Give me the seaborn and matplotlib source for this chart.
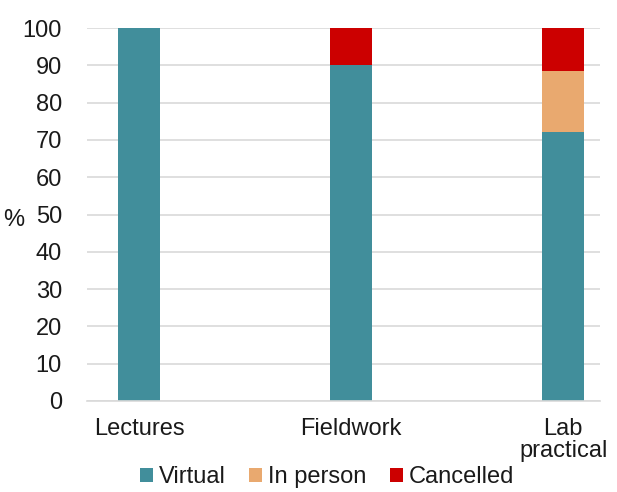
import matplotlib
matplotlib.use("Agg")
import matplotlib.pyplot as plt
import seaborn as sns
import pandas as pd
import numpy as np
from matplotlib.patches import Patch

categories = ["Lectures", "Fieldwork", "Lab\npractical"]
virtual = [100, 90, 72]
in_person = [0, 0, 16.5]
cancelled = [0, 10, 11.5]

series = ["Virtual", "In person", "Cancelled"]
colors = ["#418E9B", "#E9A96F", "#CC0000"]

sns.set_theme(style="white")
plt.rcParams["font.family"] = ["Liberation Sans", "DejaVu Sans"]

fig = plt.figure(figsize=(6.17, 4.92), dpi=100)
ax = fig.add_axes([0.141, 0.185, 0.832, 0.758])

# stacked bars: draw cumulative totals from the top layer down
values = np.array([virtual, in_person, cancelled])
cum = values.cumsum(axis=0)
for i in reversed(range(len(series))):
    df = pd.DataFrame({"cat": categories, "val": cum[i]})
    sns.barplot(data=df, x="cat", y="val", color=colors[i], width=0.2,
                saturation=1, linewidth=0, ax=ax, zorder=2)

ax.set_ylim(0, 100)
ax.set_yticks(range(0, 101, 10))
ax.set_xlim(-0.245, 2.175)
ax.yaxis.grid(True, color="#D9D9D9", linewidth=1.2, zorder=0)
ax.set_axisbelow(True)
for s in ["top", "right", "left"]:
    ax.spines[s].set_visible(False)
ax.spines["bottom"].set_color("#D9D9D9")
ax.spines["bottom"].set_linewidth(1.2)
ax.tick_params(axis="both", length=0, labelsize=17, colors="#1A1A1A")
ax.tick_params(axis="x", pad=12)
ax.tick_params(axis="y", pad=18)
ax.set_xlabel("")
ax.set_ylabel("%", rotation=0, fontsize=17, color="#1A1A1A")
ax.yaxis.set_label_coords(-0.142, 0.455)
for lbl in ax.get_xticklabels():
    lbl.set_linespacing(1.05)

handles = [Patch(facecolor=c, edgecolor="none") for c in colors]
fig.legend(handles, series, loc="lower center", bbox_to_anchor=(0.53, -0.036),
           ncol=3, frameon=False, fontsize=17, handlelength=0.55, handleheight=0.55,
           handletextpad=0.25, columnspacing=1.0, labelcolor="#1A1A1A")

fig.savefig("out.png", dpi=100)
